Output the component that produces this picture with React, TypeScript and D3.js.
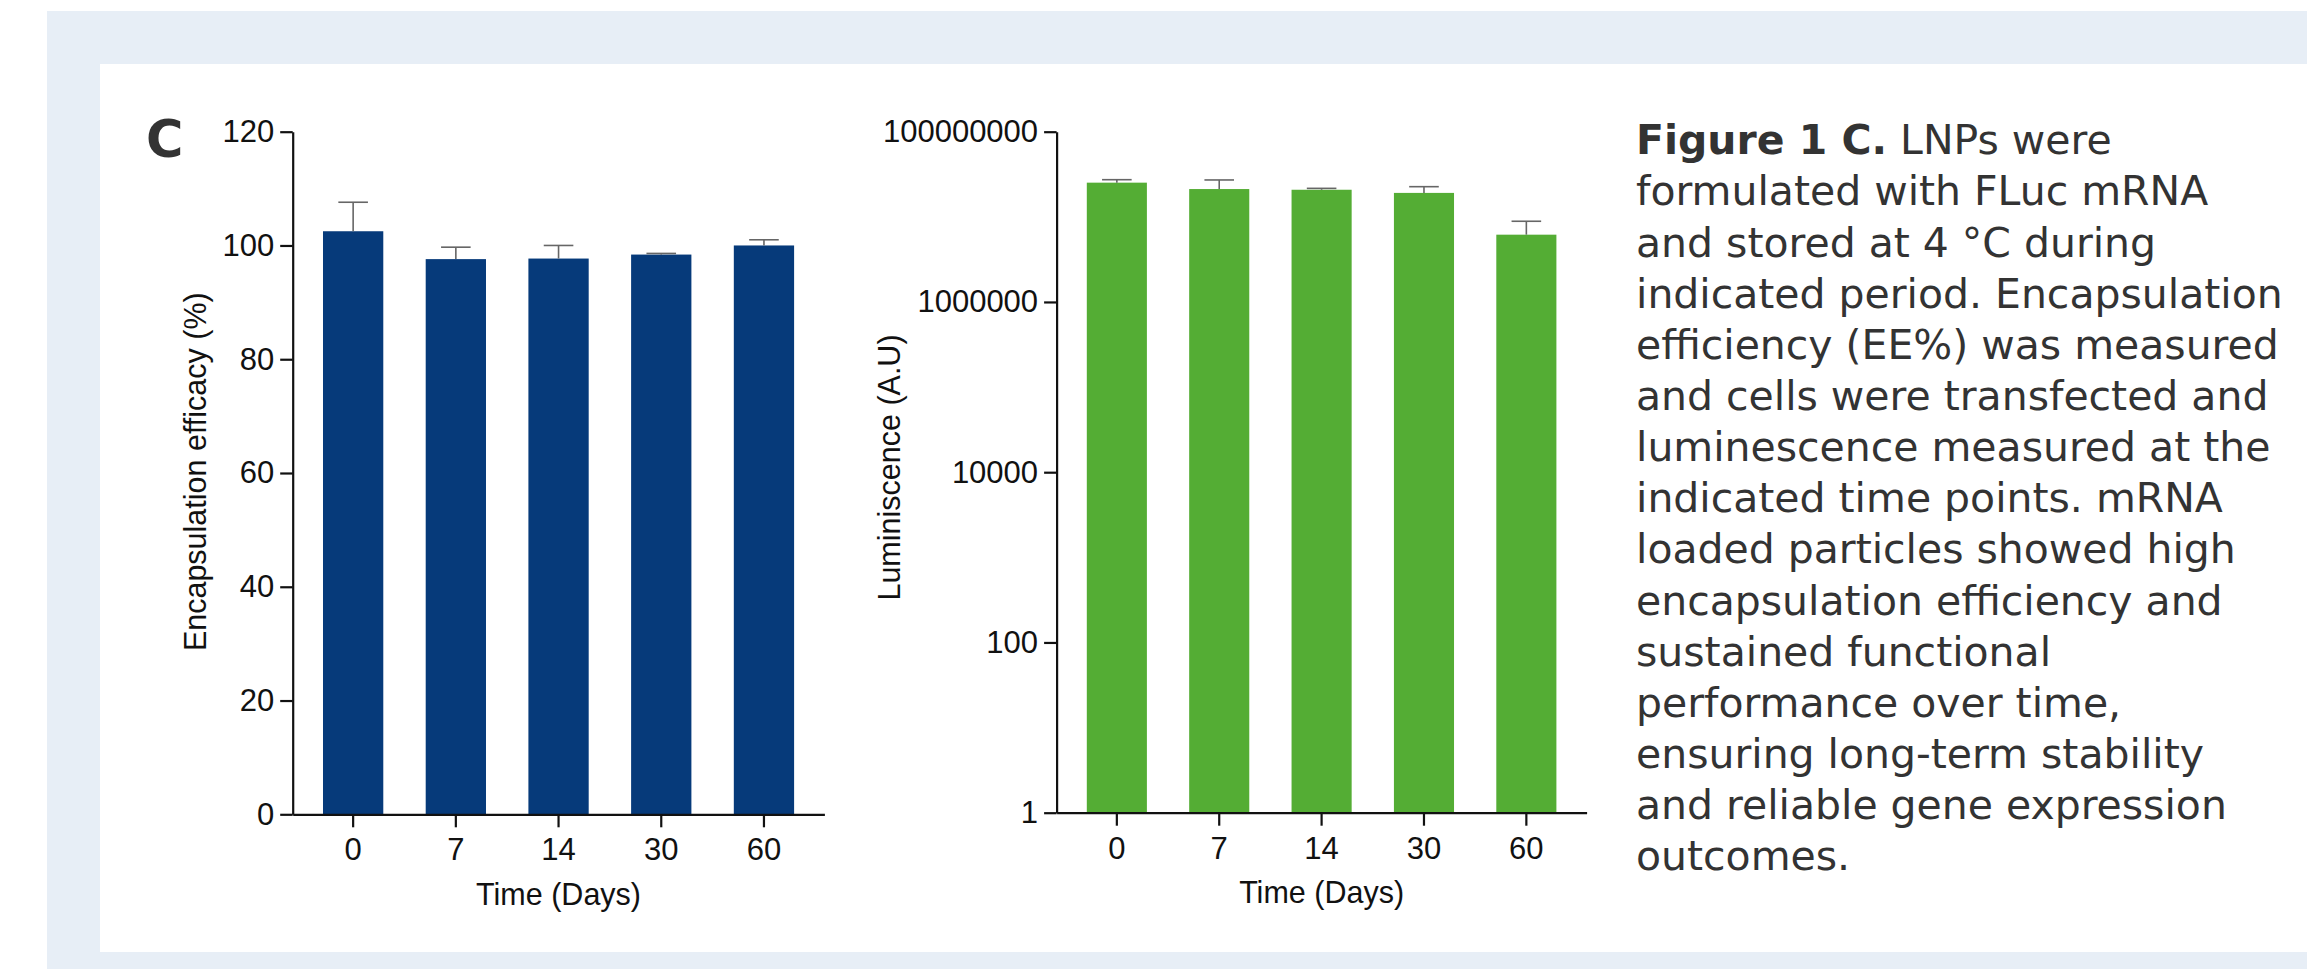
"use client";
import * as d3 from "d3";
import { useEffect, useRef } from "react";

const W = 2307;
const H = 969;

const days = ["0", "7", "14", "30", "60"];

// encapsulation efficacy (%), mean + upper SD
const eeMean = [102.5, 97.6, 97.7, 98.4, 100.0];
const eeSd = [5.1, 2.1, 2.3, 0.2, 1.0];
const eeTicks = [0, 20, 40, 60, 80, 100, 120];

// luminescence (A.U), log scale
const lumMean = [2.52e7, 2.12e7, 2.08e7, 1.91e7, 6.17e6];
const lumSd = [2.1e6, 5.9e6, 0.8e6, 3.5e6, 2.7e6];
const lumTicks = [1, 100, 10000, 1000000, 100000000];

const captionBold = "Figure 1 C.";
const captionLines = [
  " LNPs were",
  "formulated with FLuc mRNA",
  "and stored at 4 °C during",
  "indicated period. Encapsulation",
  "efficiency (EE%) was measured",
  "and cells were transfected and",
  "luminescence measured at the",
  "indicated time points. mRNA",
  "loaded particles showed high",
  "encapsulation efficiency and",
  "sustained functional",
  "performance over time,",
  "ensuring long-term stability",
  "and reliable gene expression",
  "outcomes.",
];

const AXIS_FONT = "Arial, 'Liberation Sans', Helvetica, sans-serif";
const TEXT_FONT = "'DejaVu Sans', Verdana, sans-serif";

type PanelCfg = {
  left: number;
  right: number;
  top: number;
  bottom: number;
  y: d3.ScaleContinuousNumeric<number, number>;
  ticks: number[];
  mean: number[];
  sd: number[];
  color: string;
  yTitle: string;
  yTitleX: number;
  yTitleY: number;
  xTitleY: number;
};

function drawPanel(svg: d3.Selection<SVGSVGElement, unknown, null, undefined>, c: PanelCfg) {
  const x = d3
    .scaleBand<string>()
    .domain(days)
    .range([c.left, c.right])
    .paddingInner(0.413)
    .paddingOuter(0.295);

  const g = svg.append("g");

  // bars
  g.selectAll("rect.bar")
    .data(c.mean)
    .join("rect")
    .attr("class", "bar")
    .attr("x", (_, i) => x(days[i])!)
    .attr("y", (d) => c.y(d))
    .attr("width", x.bandwidth())
    .attr("height", (d) => c.bottom - c.y(d))
    .attr("fill", c.color);

  // error bars (upper only)
  const eb = g
    .selectAll("g.err")
    .data(c.mean)
    .join("g")
    .attr("class", "err")
    .attr("stroke", "#666")
    .attr("stroke-width", 1.6);
  eb.append("line")
    .attr("x1", (_, i) => x(days[i])! + x.bandwidth() / 2)
    .attr("x2", (_, i) => x(days[i])! + x.bandwidth() / 2)
    .attr("y1", (d) => c.y(d))
    .attr("y2", (d, i) => c.y(d + c.sd[i]));
  eb.append("line")
    .attr("x1", (_, i) => x(days[i])! + x.bandwidth() / 2 - 14.8)
    .attr("x2", (_, i) => x(days[i])! + x.bandwidth() / 2 + 14.8)
    .attr("y1", (d, i) => c.y(d + c.sd[i]))
    .attr("y2", (d, i) => c.y(d + c.sd[i]));

  // axes
  const yAxis = g
    .append("g")
    .attr("transform", `translate(${c.left},0)`)
    .call(
      d3
        .axisLeft(c.y)
        .tickValues(c.ticks)
        .tickFormat(d3.format("d"))
        .tickSize(12.5)
        .tickSizeOuter(0)
        .tickPadding(6)
    );
  const xAxis = g
    .append("g")
    .attr("transform", `translate(0,${c.bottom})`)
    .call(d3.axisBottom(x).tickSize(13).tickSizeOuter(0).tickPadding(11));

  [yAxis, xAxis].forEach((a) => {
    a.attr("font-family", AXIS_FONT).attr("font-size", 31);
    a.selectAll(".domain, .tick line").attr("stroke", "#111").attr("stroke-width", 2.2);
    a.selectAll("text").attr("fill", "#111");
  });

  // titles
  g.append("text")
    .attr("transform", `translate(${c.yTitleX},${c.yTitleY}) rotate(-90)`)
    .attr("text-anchor", "middle")
    .attr("font-family", AXIS_FONT)
    .attr("font-size", 30.5)
    .attr("fill", "#111")
    .text(c.yTitle);

  g.append("text")
    .attr("x", (c.left + c.right) / 2)
    .attr("y", c.xTitleY)
    .attr("text-anchor", "middle")
    .attr("font-family", AXIS_FONT)
    .attr("font-size", 30.5)
    .attr("fill", "#111")
    .text("Time (Days)");
}

export default function App() {
  const ref = useRef<SVGSVGElement>(null);

  useEffect(() => {
    const svg = d3.select(ref.current!);
    svg.selectAll("*").remove();

    // framed background
    svg.append("rect").attr("width", W).attr("height", H).attr("fill", "#fff");
    svg.append("rect").attr("x", 47).attr("y", 11).attr("width", W - 47).attr("height", H - 11).attr("fill", "#e7eef6");
    svg.append("rect").attr("x", 100).attr("y", 64).attr("width", W - 100).attr("height", 888).attr("fill", "#fff");

    // panel letter
    svg.append("text")
      .attr("x", 146)
      .attr("y", 157)
      .attr("font-family", TEXT_FONT)
      .attr("font-weight", "bold")
      .attr("font-size", 51)
      .attr("fill", "#333")
      .text("C");

    const yEE = d3.scaleLinear().domain([0, 120]).range([814.3, 131.7]);
    drawPanel(svg, {
      left: 292.7,
      right: 824.4,
      top: 131.7,
      bottom: 814.3,
      y: yEE,
      ticks: eeTicks,
      mean: eeMean,
      sd: eeSd,
      color: "#063a7a",
      yTitle: "Encapsulation efficacy (%)",
      yTitleX: 206,
      yTitleY: 471.7,
      xTitleY: 905,
    });

    const yLum = d3.scaleLog().domain([1, 1e8]).range([812.7, 131.7]);
    drawPanel(svg, {
      left: 1056.6,
      right: 1586.6,
      top: 131.7,
      bottom: 812.7,
      y: yLum,
      ticks: lumTicks,
      mean: lumMean,
      sd: lumSd,
      color: "#54ad34",
      yTitle: "Luminiscence (A.U)",
      yTitleX: 900,
      yTitleY: 467.5,
      xTitleY: 903.3,
    });

    // caption
    const cap = svg.append("g");
    const lines = cap
      .selectAll("text")
      .data(captionLines)
      .join("text")
      .attr("x", 0)
      .attr("y", (_, i) => 154.3 + i * 51.15)
      .attr("font-family", TEXT_FONT)
      .attr("font-size", 40)
      .attr("fill", "#333");
    lines.each(function (d, i) {
      const t = d3.select(this);
      if (i === 0) {
        t.append("tspan").attr("font-weight", "bold").text(captionBold);
      }
      t.append("tspan").text(d);
    });
    // fit caption width to reference (widest line ~643px)
    const probe = lines.filter((_, i) => i === 4).node() as SVGTextElement | null;
    const len = probe ? probe.getComputedTextLength() : 643;
    const sx = Math.max(0.8, Math.min(1.25, 643 / (len || 643)));
    cap.attr("transform", `translate(1636,0) scale(${sx},1)`);
  }, []);

  return (
    <div style={{ position: "absolute", left: 0, top: 0 }}>
      <svg ref={ref} width={W} height={H} viewBox={`0 0 ${W} ${H}`} style={{ display: "block" }} />
    </div>
  );
}
